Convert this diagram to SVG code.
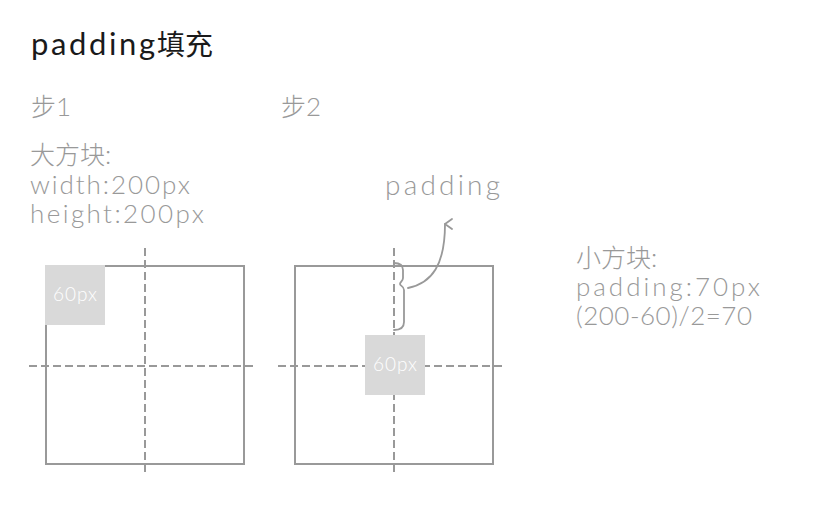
<svg xmlns="http://www.w3.org/2000/svg" width="820" height="511" viewBox="0 0 820 511">
  <defs>
    <style>
      .title { font-family: "Lato", "Noto Sans", "Noto Sans CJK SC", sans-serif; font-size: 31px; fill: #1a1a1a; }
      .note { font-family: "Lato", "Noto Sans", "Noto Sans CJK SC", sans-serif; font-size: 26px; font-weight: 300; fill: #999999; }
      .big { font-size: 28px; }
      .cjk { font-size: 25px; }
      .tcjk { font-size: 28px; }
      .lbl { font-family: "Lato", "Noto Sans", sans-serif; font-size: 19px; font-weight: 300; fill: #ffffff; text-anchor: middle; }
      .box { fill: none; stroke: #999999; stroke-width: 2; }
      .sq { fill: #d9d9d9; stroke: none; }
      .dash { fill: none; stroke: #999999; stroke-width: 2; stroke-dasharray: 8 4; }
      .line { fill: none; stroke: #999999; stroke-width: 1.8; stroke-linecap: round; stroke-linejoin: round; }
    </style>
    <marker id="arrow" viewBox="0 0 12 12" refX="6" refY="1" markerWidth="12" markerHeight="12" markerUnits="userSpaceOnUse" orient="auto-start-reverse">
      <path d="M1,8 L6,1 L11,8" fill="none" stroke="#999999" stroke-width="1.8" stroke-linecap="round" stroke-linejoin="round"/>
    </marker>
  </defs>
  <rect width="820" height="511" fill="#ffffff"/>

  <g id="title">
    <text class="title" x="31" y="55"><tspan textLength="124" lengthAdjust="spacing">padding</tspan><tspan class="tcjk" x="157">填充</tspan></text>
  </g>

  <g id="step1-text">
    <text class="note" x="31" y="116"><tspan class="cjk">步</tspan>1</text>
    <text class="note" x="30" y="164"><tspan class="cjk">大方块</tspan>:</text>
    <text class="note" x="30" y="194" textLength="160" lengthAdjust="spacing">width:200px</text>
    <text class="note" x="30" y="223" textLength="174" lengthAdjust="spacing">height:200px</text>
  </g>

  <g id="step2-text">
    <text class="note" x="281" y="116"><tspan class="cjk">步</tspan>2</text>
  </g>

  <g id="small-box-text">
    <text class="note" x="576" y="267"><tspan class="cjk">小方块</tspan>:</text>
    <text class="note" x="576" y="296" textLength="184" lengthAdjust="spacing">padding:70px</text>
    <text class="note" x="576" y="325" textLength="176" lengthAdjust="spacing">(200-60)/2=70</text>
  </g>

  <g id="padding-label">
    <text class="note big" x="385" y="195" textLength="115" lengthAdjust="spacing">padding</text>
  </g>

  <g id="step1-box">
    <rect class="box" x="46" y="266" width="198" height="198"/>
    <line class="dash" x1="145" y1="248" x2="145" y2="476"/>
    <line class="dash" x1="29" y1="366" x2="257" y2="366"/>
  </g>
  <g id="step1-small">
    <rect class="sq" x="45" y="265" width="60" height="60"/>
    <text class="lbl" x="75" y="301" textLength="44" lengthAdjust="spacing">60px</text>
  </g>

  <g id="step2-box">
    <rect class="box" x="295" y="266" width="198" height="198"/>
    <line class="dash" x1="394" y1="248" x2="394" y2="476"/>
    <line class="dash" x1="278" y1="366" x2="506" y2="366"/>
  </g>
  <g id="step2-small">
    <rect class="sq" x="365" y="335" width="60" height="60"/>
    <text class="lbl" x="395" y="371" textLength="44" lengthAdjust="spacing">60px</text>
  </g>

  <g id="brace">
    <path class="line" d="M394,263 C400,263 403,265 403,270 L403,278 C403,281 400,282 400,284 C400,286 404,286 404,290 L404,322 C404,328 400,330 394,330"/>
  </g>

  <g id="connectors">
    <path class="line" d="M408,288 C432,283 445,265 445,224" marker-end="url(#arrow)"/>
  </g>
</svg>
